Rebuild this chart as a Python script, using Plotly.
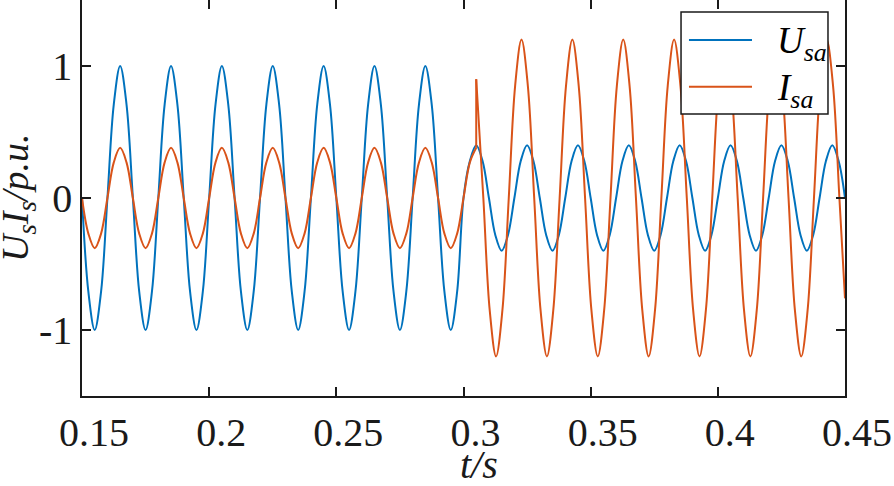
import plotly.graph_objects as go

# ---- data ----
# U_sa samples (every 1/8 period of the 50 Hz wave)
t_u = [0.1500, 0.1525, 0.1550, 0.1575, 0.1600, 0.1625, 0.1650, 0.1675,
       0.1700, 0.1725, 0.1750, 0.1775, 0.1800, 0.1825, 0.1850, 0.1875,
       0.1900, 0.1925, 0.1950, 0.1975, 0.2000, 0.2025, 0.2050, 0.2075,
       0.2100, 0.2125, 0.2150, 0.2175, 0.2200, 0.2225, 0.2250, 0.2275,
       0.2300, 0.2325, 0.2350, 0.2375, 0.2400, 0.2425, 0.2450, 0.2475,
       0.2500, 0.2525, 0.2550, 0.2575, 0.2600, 0.2625, 0.2650, 0.2675,
       0.2700, 0.2725, 0.2750, 0.2775, 0.2800, 0.2825, 0.2850, 0.2875,
       0.2900, 0.2925, 0.2950, 0.2975, 0.3000, 0.3025, 0.3050, 0.3075,
       0.3100, 0.3125, 0.3150, 0.3175, 0.3200, 0.3225, 0.3250, 0.3275,
       0.3300, 0.3325, 0.3350, 0.3375, 0.3400, 0.3425, 0.3450, 0.3475,
       0.3500, 0.3525, 0.3550, 0.3575, 0.3600, 0.3625, 0.3650, 0.3675,
       0.3700, 0.3725, 0.3750, 0.3775, 0.3800, 0.3825, 0.3850, 0.3875,
       0.3900, 0.3925, 0.3950, 0.3975, 0.4000, 0.4025, 0.4050, 0.4075,
       0.4100, 0.4125, 0.4150, 0.4175, 0.4200, 0.4225, 0.4250, 0.4275,
       0.4300, 0.4325, 0.4350, 0.4375, 0.4400, 0.4425, 0.4450, 0.4475,
       0.4500]
u_sa = [0, -0.71, -1.0, -0.71, 0, 0.71, 1.0, 0.71,
        0, -0.71, -1.0, -0.71, 0, 0.71, 1.0, 0.71,
        0, -0.71, -1.0, -0.71, 0, 0.71, 1.0, 0.71,
        0, -0.71, -1.0, -0.71, 0, 0.71, 1.0, 0.71,
        0, -0.71, -1.0, -0.71, 0, 0.71, 1.0, 0.71,
        0, -0.71, -1.0, -0.71, 0, 0.71, 1.0, 0.71,
        0, -0.71, -1.0, -0.71, 0, 0.71, 1.0, 0.71,
        0, -0.71, -1.0, -0.71, 0, 0.28, 0.40, 0.28,
        0, -0.28, -0.40, -0.28, 0, 0.28, 0.40, 0.28,
        0, -0.28, -0.40, -0.28, 0, 0.28, 0.40, 0.28,
        0, -0.28, -0.40, -0.28, 0, 0.28, 0.40, 0.28,
        0, -0.28, -0.40, -0.28, 0, 0.28, 0.40, 0.28,
        0, -0.28, -0.40, -0.28, 0, 0.28, 0.40, 0.28,
        0, -0.28, -0.40, -0.28, 0, 0.28, 0.40, 0.28,
        0, -0.28, -0.40, -0.28, 0, 0.28, 0.40, 0.28,
        0]

# I_sa before the step (up to t = 0.305)
t_i_pre = [0.1500, 0.1525, 0.1550, 0.1575, 0.1600, 0.1625, 0.1650, 0.1675,
           0.1700, 0.1725, 0.1750, 0.1775, 0.1800, 0.1825, 0.1850, 0.1875,
           0.1900, 0.1925, 0.1950, 0.1975, 0.2000, 0.2025, 0.2050, 0.2075,
           0.2100, 0.2125, 0.2150, 0.2175, 0.2200, 0.2225, 0.2250, 0.2275,
           0.2300, 0.2325, 0.2350, 0.2375, 0.2400, 0.2425, 0.2450, 0.2475,
           0.2500, 0.2525, 0.2550, 0.2575, 0.2600, 0.2625, 0.2650, 0.2675,
           0.2700, 0.2725, 0.2750, 0.2775, 0.2800, 0.2825, 0.2850, 0.2875,
           0.2900, 0.2925, 0.2950, 0.2975, 0.3000, 0.3025, 0.3050]
i_sa_pre = [0, -0.27, -0.38, -0.27, 0, 0.27, 0.38, 0.27,
            0, -0.27, -0.38, -0.27, 0, 0.27, 0.38, 0.27,
            0, -0.27, -0.38, -0.27, 0, 0.27, 0.38, 0.27,
            0, -0.27, -0.38, -0.27, 0, 0.27, 0.38, 0.27,
            0, -0.27, -0.38, -0.27, 0, 0.27, 0.38, 0.27,
            0, -0.27, -0.38, -0.27, 0, 0.27, 0.38, 0.27,
            0, -0.27, -0.38, -0.27, 0, 0.27, 0.38, 0.27,
            0, -0.27, -0.38, -0.27, 0, 0.27, 0.38]

# the step at t = 0.305
t_i_step = [0.3050, 0.3050]
i_sa_step = [0.38, 0.90]

# I_sa after the step
t_i_post = [0.3050, 0.3078, 0.3103, 0.3128, 0.3153, 0.3178, 0.3203, 0.3228,
            0.3253, 0.3278, 0.3303, 0.3328, 0.3353, 0.3378, 0.3403, 0.3428,
            0.3453, 0.3478, 0.3503, 0.3528, 0.3553, 0.3578, 0.3603, 0.3628,
            0.3653, 0.3678, 0.3703, 0.3728, 0.3753, 0.3778, 0.3803, 0.3828,
            0.3853, 0.3878, 0.3903, 0.3928, 0.3953, 0.3978, 0.4003, 0.4028,
            0.4053, 0.4078, 0.4103, 0.4128, 0.4153, 0.4178, 0.4203, 0.4228,
            0.4253, 0.4278, 0.4303, 0.4328, 0.4353, 0.4378, 0.4403, 0.4428,
            0.4453, 0.4478, 0.4500]
i_sa_post = [0.90, 0, -0.85, -1.2, -0.85, 0, 0.85, 1.2,
             0.85, 0, -0.85, -1.2, -0.85, 0, 0.85, 1.2,
             0.85, 0, -0.85, -1.2, -0.85, 0, 0.85, 1.2,
             0.85, 0, -0.85, -1.2, -0.85, 0, 0.85, 1.2,
             0.85, 0, -0.85, -1.2, -0.85, 0, 0.85, 1.2,
             0.85, 0, -0.85, -1.2, -0.85, 0, 0.85, 1.2,
             0.85, 0, -0.85, -1.2, -0.85, 0, 0.85, 1.2,
             0.85, 0, -0.76]

x_ticks = [0.15, 0.2, 0.25, 0.3, 0.35, 0.4, 0.45]
x_tick_text = ["0.15", "0.2", "0.25", "0.3", "0.35", "0.4", "0.45"]
y_ticks = [-1, 0, 1]
y_tick_text = ["-1", "0", "1"]
legend_names = ["<i>U<sub>sa</sub></i>", "<i>I<sub>sa</sub></i>"]

BLUE = "#0072BD"
ORANGE = "#D95319"
FONT = "Liberation Serif"
INK = "#1a1a1a"

fig = go.Figure()
fig.add_trace(go.Scatter(x=t_u, y=u_sa, mode="lines", name=legend_names[0],
                         line=dict(color=BLUE, width=2, shape="spline", smoothing=1)))
fig.add_trace(go.Scatter(x=t_i_pre, y=i_sa_pre, mode="lines", name=legend_names[1],
                         line=dict(color=ORANGE, width=2, shape="spline", smoothing=1)))
fig.add_trace(go.Scatter(x=t_i_step, y=i_sa_step, mode="lines", name=legend_names[1],
                         line=dict(color=ORANGE, width=2)))
fig.add_trace(go.Scatter(x=t_i_post, y=i_sa_post, mode="lines", name=legend_names[1],
                         line=dict(color=ORANGE, width=2, shape="spline", smoothing=1)))

fig.update_layout(
    width=894, height=486,
    margin=dict(l=82, r=49, t=0, b=90, autoexpand=False),
    paper_bgcolor="white", plot_bgcolor="white",
    font=dict(family=FONT, size=40, color=INK),
    showlegend=False,
)
fig.update_xaxes(range=[0.15, 0.45], tickvals=x_ticks, ticktext=x_tick_text,
                 automargin=False,
                 showline=True, linecolor=INK, linewidth=1.5, mirror="ticks",
                 ticks="inside", ticklen=9, tickwidth=1.5, tickcolor=INK,
                 showgrid=False, zeroline=False, ticklabelshift=12,
                 tickfont=dict(family=FONT, size=40, color=INK))
fig.update_yaxes(range=[-1.5, 1.5], tickvals=y_ticks, ticktext=y_tick_text,
                 automargin=False,
                 showline=True, linecolor=INK, linewidth=1.5, mirror="ticks",
                 ticks="inside", ticklen=9, tickwidth=1.5, tickcolor=INK,
                 showgrid=False, zeroline=False,
                 tickfont=dict(family=FONT, size=40, color=INK))

# legend box drawn in paper space (white box covering the curves)
fig.add_shape(type="rect", xref="paper", yref="paper", x0=0.7851, x1=0.9777, y0=0.7121, y1=0.9697,
              fillcolor="white", line=dict(color=INK, width=1.5), layer="above")
fig.add_shape(type="line", xref="paper", yref="paper", x0=0.7955, x1=0.8781, y0=0.899, y1=0.899,
              line=dict(color=BLUE, width=2), layer="above")
fig.add_shape(type="line", xref="paper", yref="paper", x0=0.7955, x1=0.8781, y0=0.781, y1=0.781,
              line=dict(color=ORANGE, width=2), layer="above")
fig.add_annotation(text=legend_names[0], xref="paper", yref="paper", x=0.908, y=0.899,
                   xanchor="left", yanchor="middle", yshift=-4, showarrow=False,
                   font=dict(family=FONT, size=37, color="black"))
fig.add_annotation(text=legend_names[1], xref="paper", yref="paper", x=0.908, y=0.781,
                   xanchor="left", yanchor="middle", yshift=-4, showarrow=False,
                   font=dict(family=FONT, size=37, color="black"))

fig.add_annotation(text="<i>U<sub>s</sub>I<sub>s</sub>/p.u.</i>", textangle=-90,
                   xref="paper", yref="paper", x=0, y=0.5, xanchor="center", yanchor="middle",
                   xshift=-64, yshift=0, showarrow=False, font=dict(family=FONT, size=38, color=INK))
fig.add_annotation(text="<i>t/s</i>",
                   xref="paper", yref="paper", x=0.5, y=0, xanchor="center", yanchor="top",
                   xshift=15, yshift=-44, showarrow=False, font=dict(family=FONT, size=40, color=INK))

fig.write_html("out.html", post_script="document.body.style.margin='0';",
               config={"displayModeBar": False})
